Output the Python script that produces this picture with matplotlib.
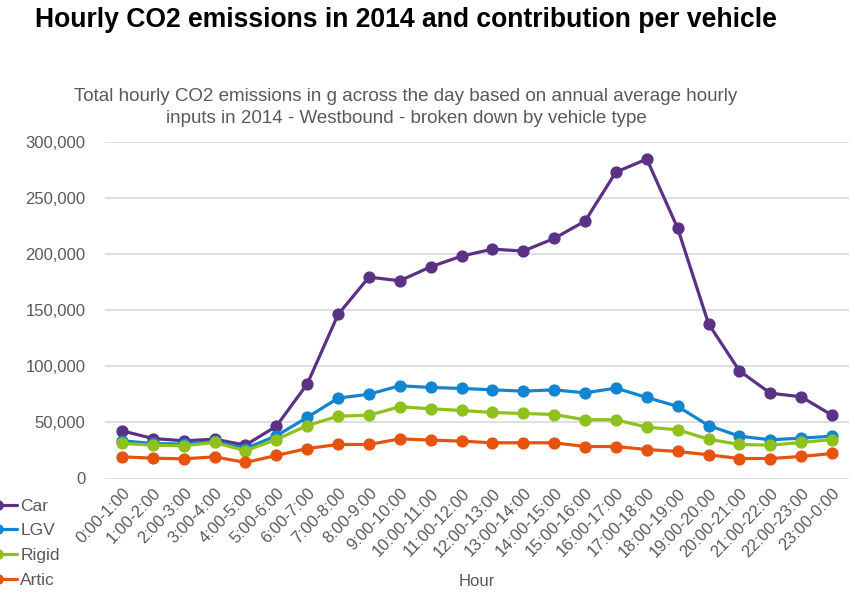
import matplotlib
matplotlib.use("Agg")
import matplotlib.pyplot as plt
from matplotlib.ticker import FuncFormatter, MultipleLocator

plt.rcParams['font.family'] = ['Liberation Sans', 'DejaVu Sans']

hours = ["0:00-1:00", "1:00-2:00", "2:00-3:00", "3:00-4:00", "4:00-5:00", "5:00-6:00",
         "6:00-7:00", "7:00-8:00", "8:00-9:00", "9:00-10:00", "10:00-11:00", "11:00-12:00",
         "12:00-13:00", "13:00-14:00", "14:00-15:00", "15:00-16:00", "16:00-17:00",
         "17:00-18:00", "18:00-19:00", "19:00-20:00", "20:00-21:00", "21:00-22:00",
         "22:00-23:00", "23:00-0:00"]

car = [42500, 35600, 33600, 35000, 29700, 46600, 84100, 146100, 179400, 176100, 188600, 198100,
       204300, 202600, 213800, 229300, 272900, 284500, 223000, 137800, 95900, 76000, 72800, 56400]
lgv = [33600, 31200, 30600, 33000, 26700, 38000, 54400, 71600, 75100, 82600, 81100, 80200,
       79000, 77800, 79000, 76300, 80500, 72200, 64200, 47200, 37700, 34500, 35900, 37700]
rigid = [31200, 29700, 29100, 32100, 24700, 34700, 47200, 55500, 56400, 63900, 62100, 60600,
         58800, 57900, 57000, 52300, 52300, 45700, 43400, 35000, 30300, 29700, 32100, 34700]
artic = [19300, 18100, 17500, 19300, 14300, 20500, 26700, 30300, 30300, 35300, 34200, 33300,
         31800, 31800, 31800, 28500, 28500, 25800, 24100, 21100, 17800, 17800, 19600, 22300]

series = [("Car", car, "#5B3186"), ("LGV", lgv, "#1185D1"),
          ("Rigid", rigid, "#8EC11B"), ("Artic", artic, "#E6530F")]

text_grey = "#595959"
grid_grey = "#D9D9D9"

fig = plt.figure(figsize=(8.66, 6.07), dpi=100)
ax = fig.add_axes([105 / 866, 1 - 478.5 / 607, (849 - 105) / 866, (478.5 - 141.7) / 607])

x = list(range(len(hours)))
for name, vals, col in series:
    ax.plot(x, vals, color=col, lw=2.3, marker='o', markersize=7.8, label=name,
            solid_capstyle='round', zorder=3)

ax.set_xlim(-0.55, len(hours) - 0.45)
ax.set_ylim(0, 300000)
ax.yaxis.set_major_locator(MultipleLocator(50000))
ax.yaxis.set_major_formatter(FuncFormatter(lambda v, p: f"{int(v):,}"))
ax.grid(axis='y', color=grid_grey, lw=1.2, zorder=0)
for s in ax.spines.values():
    s.set_visible(False)
ax.tick_params(axis='both', length=0, colors=text_grey, labelsize=12)
ax.tick_params(axis='y', pad=14)
ax.set_xticks(x)
ax.set_xticklabels(hours, rotation=46, ha='right', rotation_mode='anchor')
ax.tick_params(axis='x', pad=5)

ax.set_xlabel("Hour", color=text_grey, fontsize=12, labelpad=10)

fig.text(35 / 866, 1 - 20 / 607, "Hourly CO2 emissions in 2014 and contribution per vehicle",
         fontsize=19.1, fontweight='bold', color='black', va='center', ha='left')
fig.text(406 / 866, 1 - 107.5 / 607,
         "Total hourly CO2 emissions in g across the day based on annual average hourly\n"
         "inputs in 2014 - Westbound - broken down by vehicle type",
         fontsize=13.5, color=text_grey, ha='center', va='center', linespacing=1.33)

leg = fig.legend(loc='upper left', bbox_to_anchor=(-37 / 866, 1 - 483 / 607), frameon=False,
                 fontsize=12.5, labelcolor=text_grey, handlelength=2.2, handletextpad=0.2,
                 labelspacing=0.55, markerscale=0.85)

fig.savefig("out.png", dpi=100, facecolor='white')
